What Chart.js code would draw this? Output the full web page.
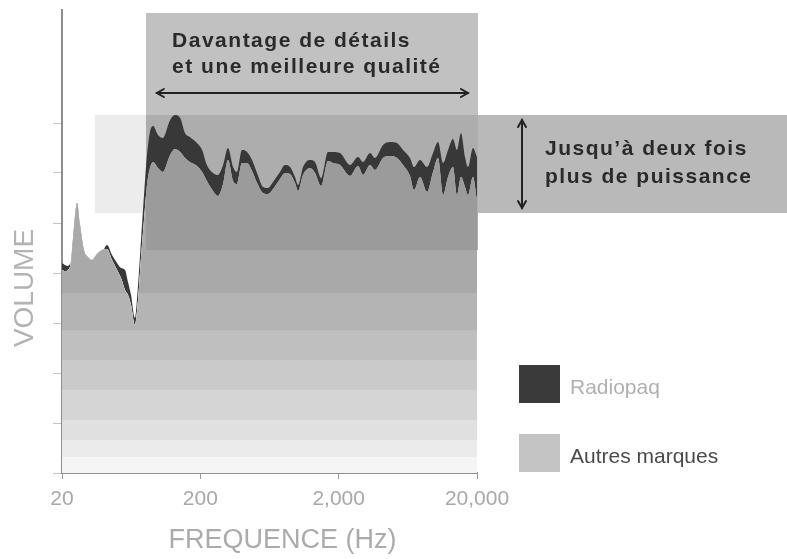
<!DOCTYPE html>
<html><head><meta charset="utf-8">
<script src="https://cdn.jsdelivr.net/npm/chart.js@4/dist/chart.umd.min.js"></script>
<style>html,body{margin:0;padding:0;background:#fff}canvas{display:block}</style>
</head><body>
<canvas id="c" width="787" height="559"></canvas>
<script>
// ---- data ----
const freqHz = [20, 21, 22.1, 23.2, 24.4, 25.7, 27, 28.8, 30.8, 33, 35.8, 38.9, 42.3, 46, 50, 53.4, 57.1, 60, 63.1, 67.4, 70.9, 74.5, 78.3, 82.3, 86.5, 91, 98.9, 107, 121, 131, 143, 155, 168, 189, 206, 223, 247, 268, 292, 317, 345, 368, 400, 435, 473, 514, 568, 617, 671, 753, 819, 890, 967, 1017, 1105, 1241, 1349, 1491, 1675, 1820, 2045, 2416, 2760, 3000, 3371, 3663, 4185, 4702, 5284, 5838, 6558, 7009, 7745, 8704, 9616, 10450, 11360, 12345, 13416, 14340, 15327, 16383, 17219, 18712, 20000];
const radiopaq = [4.20, 4.16, 4.14, 4.20, 4.22, 4.30, 4.30, 4.28, 4.22, 4.18, 4.30, 4.40, 4.56, 4.36, 4.20, 4.10, 4.06, 3.82, 3.56, 3.10, 3.76, 4.66, 5.56, 6.36, 6.82, 6.94, 6.76, 6.70, 7.06, 7.16, 7.10, 6.80, 6.72, 6.60, 6.46, 6.16, 6.00, 5.96, 6.16, 6.50, 6.12, 6.02, 6.46, 6.42, 6.26, 6.00, 5.72, 5.70, 5.82, 6.02, 6.16, 6.12, 5.92, 5.76, 6.12, 6.26, 6.22, 5.90, 6.42, 6.42, 6.40, 6.16, 6.32, 6.22, 6.40, 6.30, 6.56, 6.62, 6.60, 6.46, 6.30, 6.12, 6.26, 6.12, 6.40, 6.62, 6.20, 6.46, 6.68, 6.46, 6.80, 6.32, 6.12, 6.50, 6.32];
const autres = [4.06, 4.04, 4.06, 4.22, 4.90, 5.40, 4.96, 4.46, 4.32, 4.26, 4.38, 4.46, 4.48, 4.26, 4.06, 3.90, 3.66, 3.56, 3.36, 2.96, 3.46, 4.30, 5.06, 5.76, 6.10, 6.22, 6.10, 6.02, 6.36, 6.48, 6.42, 6.30, 6.22, 6.14, 6.02, 5.84, 5.64, 5.54, 5.78, 6.26, 5.84, 5.78, 6.20, 6.20, 6.04, 5.80, 5.60, 5.58, 5.68, 5.88, 6.00, 5.98, 5.80, 5.64, 5.96, 6.10, 6.00, 5.74, 6.24, 6.20, 6.16, 5.94, 6.14, 5.96, 6.16, 6.06, 6.30, 6.34, 6.30, 6.16, 5.94, 5.66, 5.92, 5.62, 6.02, 6.30, 5.56, 5.92, 6.12, 5.56, 5.92, 5.72, 5.56, 5.92, 5.46];
const xTickValues = [20, 200, 2000, 20000];
const yTickValues = [0, 1, 2, 3, 4, 5, 6, 7];
const seriesLabels = ['Radiopaq', 'Autres marques'];
const topNote = ['Davantage de détails', 'et une meilleure qualité'];
const sideNote = ['Jusqu’à deux fois', 'plus de puissance'];
const xTitle = 'FREQUENCE (Hz)';
const yTitle = 'VOLUME';

// ---- styling / annotation geometry (data units) ----
const Y_MAX = 9.26;
const stripeEdges = [4.46, 3.60, 2.86, 2.26, 1.66, 1.06, 0.66, 0.32];
const stripeColors = ['rgba(151,151,151,0.82)', '#a9a9a9', '#b4b4b4', '#bfbfbf', '#cacaca', '#d5d5d5', '#e0e0e0', '#ebebeb', '#f5f5f5'];
const column = {from: 80.9, to: 20000, top: 9.2, bottom: 4.46};
const band = {from: 34.6, top: 7.16, bottom: 5.2};
const hArrow = {from: 97, to: 17200, y: 7.6};
const vArrow = {x: 42300, top: 7.06, bottom: 5.3};
const topNotePos = {x: 125, y: [8.52, 8.0]};
const sideNotePos = {x: 62000, y: [6.36, 5.8]};
const FONT = '"Liberation Sans", Arial, Helvetica, sans-serif';

function stripeFill(ctx) {
  const chart = ctx.chart, a = chart.chartArea;
  if (!a) return stripeColors[1];
  const y = chart.scales.y;
  const g = chart.ctx.createLinearGradient(0, a.top, 0, a.bottom);
  const h = a.bottom - a.top;
  g.addColorStop(0, stripeColors[0]);
  stripeEdges.forEach((v, i) => {
    const t = Math.min(1, Math.max(0, (y.getPixelForValue(v) - a.top) / h));
    g.addColorStop(t, stripeColors[i]);
    g.addColorStop(t, stripeColors[i + 1]);
  });
  g.addColorStop(1, stripeColors[stripeColors.length - 1]);
  return g;
}

function arrowHead(ctx, x, y, dx, dy) {
  const L = 7, W = 4;
  const px = -dy, py = dx;
  ctx.beginPath();
  ctx.moveTo(x - dx * L + px * W, y - dy * L + py * W);
  ctx.lineTo(x, y);
  ctx.lineTo(x - dx * L - px * W, y - dy * L - py * W);
  ctx.stroke();
}

const decor = {
  id: 'decor',
  beforeDatasetsDraw(chart) {
    const {ctx, scales: {x, y}} = chart;
    const cx0 = x.getPixelForValue(column.from), cx1 = x.getPixelForValue(column.to) + 1;
    const cyT = y.getPixelForValue(column.top), cyB = y.getPixelForValue(column.bottom);
    const byT = y.getPixelForValue(band.top), byB = y.getPixelForValue(band.bottom);
    const bx0 = x.getPixelForValue(band.from);
    ctx.save();
    ctx.fillStyle = '#c1c1c1';
    ctx.fillRect(cx0, cyT, cx1 - cx0, byT - cyT);
    ctx.fillStyle = '#ececec';
    ctx.fillRect(bx0, byT, cx0 - bx0, byB - byT);
    ctx.fillStyle = '#adadad';
    ctx.fillRect(cx0, byT, cx1 - cx0, cyB - byT);
    ctx.fillStyle = '#b9b9b9';
    ctx.fillRect(cx1, byT, chart.width - cx1, byB - byT);
    ctx.restore();
  },
  afterDraw(chart) {
    const {ctx, chartArea: a, scales: {x, y}} = chart;
    ctx.save();
    ctx.strokeStyle = '#222';
    ctx.lineWidth = 2;
    ctx.lineCap = 'round';
    const hx0 = x.getPixelForValue(hArrow.from), hx1 = x.getPixelForValue(hArrow.to), hy = y.getPixelForValue(hArrow.y);
    ctx.beginPath(); ctx.moveTo(hx0, hy); ctx.lineTo(hx1, hy); ctx.stroke();
    arrowHead(ctx, hx0, hy, -1, 0); arrowHead(ctx, hx1, hy, 1, 0);
    const vx = x.getPixelForValue(vArrow.x), vy0 = y.getPixelForValue(vArrow.top), vy1 = y.getPixelForValue(vArrow.bottom);
    ctx.beginPath(); ctx.moveTo(vx, vy0); ctx.lineTo(vx, vy1); ctx.stroke();
    arrowHead(ctx, vx, vy0, 0, -1); arrowHead(ctx, vx, vy1, 0, 1);
    ctx.fillStyle = '#2a2a2a';
    ctx.font = 'bold 21px ' + FONT;
    ctx.textAlign = 'left';
    ctx.textBaseline = 'alphabetic';
    if ('letterSpacing' in ctx) ctx.letterSpacing = '1.5px';
    topNote.forEach((t, i) => ctx.fillText(t, x.getPixelForValue(topNotePos.x), y.getPixelForValue(topNotePos.y[i])));
    sideNote.forEach((t, i) => ctx.fillText(t, x.getPixelForValue(sideNotePos.x), y.getPixelForValue(sideNotePos.y[i])));
    if ('letterSpacing' in ctx) ctx.letterSpacing = '0px';
    const ds = chart.data.datasets;
    const order = [1, 0];
    const lx = a.right + 42;
    const rows = [365, 434];
    const swatch = ['#3a3a3a', '#c4c4c4'];
    const textColors = ['#b0b0b0', '#4a4a4a'];
    ctx.font = '21px ' + FONT;
    order.forEach((di, r) => {
      ctx.fillStyle = swatch[r];
      ctx.fillRect(lx, rows[r], 41, 38);
      ctx.fillStyle = textColors[r];
      ctx.fillText(ds[di].label, lx + 51, rows[r] + 29);
    });
    ctx.fillStyle = '#ababab';
    ctx.font = '27px ' + FONT;
    ctx.textAlign = 'center';
    ctx.fillText(xTitle, (a.left + a.right) / 2 + 13, a.bottom + 75);
    ctx.fillStyle = '#b3b3b3';
    ctx.font = '28px ' + FONT;
    ctx.translate(a.left - 29, y.getPixelForValue(3.7));
    ctx.rotate(-Math.PI / 2);
    ctx.fillText(yTitle, 0, 0);
    ctx.restore();
  }
};

new Chart(document.getElementById('c'), {
  type: 'line',
  data: {
    datasets: [
      {
        label: seriesLabels[1],
        data: freqHz.map((f, i) => ({x: f, y: autres[i]})),
        fill: 'origin',
        backgroundColor: stripeFill,
        borderColor: 'rgba(0,0,0,0)',
        borderWidth: 0,
        pointRadius: 0,
        cubicInterpolationMode: 'monotone'
      },
      {
        label: seriesLabels[0],
        data: freqHz.map((f, i) => ({x: f, y: radiopaq[i]})),
        fill: {target: '-1', above: '#383838', below: 'rgba(0,0,0,0)'},
        backgroundColor: '#3a3a3a',
        borderColor: 'rgba(0,0,0,0)',
        borderWidth: 0,
        pointRadius: 0,
        cubicInterpolationMode: 'monotone'
      }
    ]
  },
  options: {
    responsive: false,
    animation: false,
    events: [],
    layout: {padding: {top: 10, right: 310, left: 0, bottom: 0}},
    plugins: {legend: {display: false}, tooltip: {enabled: false}},
    scales: {
      x: {
        type: 'logarithmic',
        min: 20, max: 20000,
        afterBuildTicks: s => { s.ticks = xTickValues.map(v => ({value: v})); },
        afterFit: s => { s.height = 86; },
        ticks: {
          autoSkip: false, maxRotation: 0, padding: 8,
          color: '#a8a8a8',
          font: {family: FONT, size: 21},
          callback: v => Number(v).toLocaleString('en-US')
        },
        grid: {drawOnChartArea: false, drawTicks: true, tickLength: 6, color: '#9a9a9a', lineWidth: 1},
        border: {display: true, color: '#8e8e8e', width: 2}
      },
      y: {
        type: 'linear',
        min: 0, max: Y_MAX,
        afterBuildTicks: s => { s.ticks = yTickValues.map(v => ({value: v})); },
        afterFit: s => { s.width = 62; },
        ticks: {display: false},
        grid: {drawOnChartArea: false, drawTicks: true, tickLength: 9, color: '#c4c4c4', lineWidth: 1},
        border: {display: true, color: '#8e8e8e', width: 2}
      }
    }
  },
  plugins: [decor]
});
</script>
</body></html>
